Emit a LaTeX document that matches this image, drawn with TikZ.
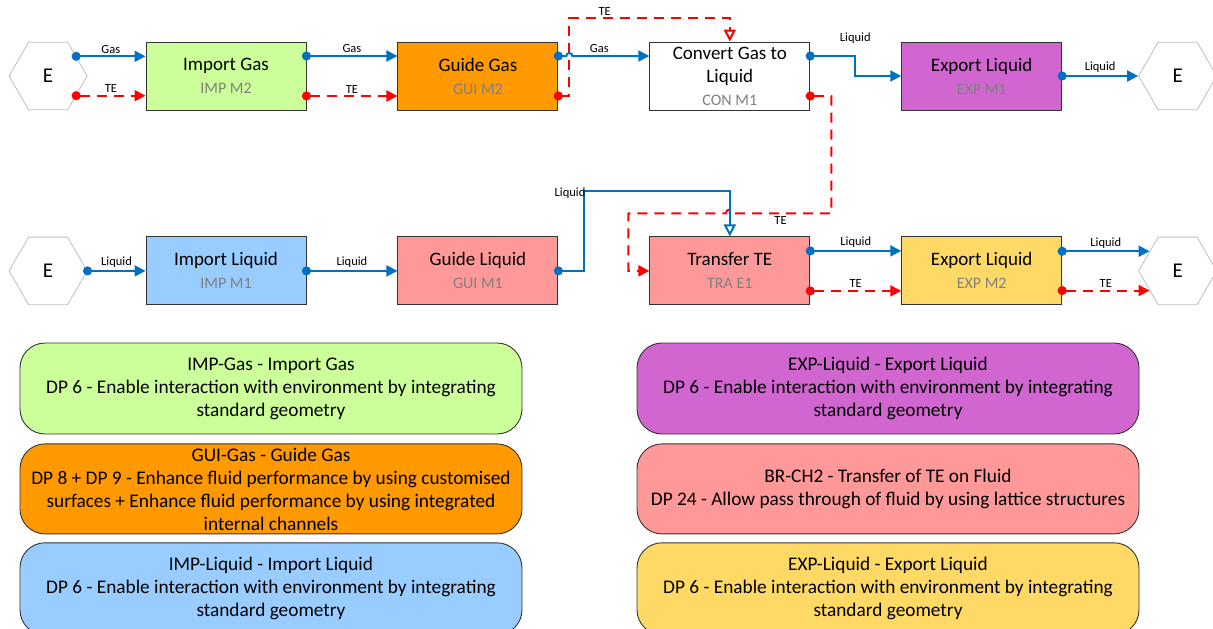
\documentclass[tikz,border=0pt]{standalone}
\usepackage{fontspec}
\setmainfont{Carlito}
\usetikzlibrary{arrows.meta,positioning,calc,shapes.geometric}

\definecolor{flowblue}{HTML}{0070C0}
\definecolor{flowred}{HTML}{FF0000}
\definecolor{gasgreen}{HTML}{CCFF99}
\definecolor{gasorange}{HTML}{FF9900}
\definecolor{liqblue}{HTML}{99CCFF}
\definecolor{liqpurple}{HTML}{D166D1}
\definecolor{liqsalmon}{HTML}{FF9999}
\definecolor{liqyellow}{HTML}{FFD966}
\definecolor{subgray}{HTML}{808080}
\definecolor{envgray}{HTML}{BFBFBF}

\newcommand{\fnname}[2]{#1\\{\color{subgray}\fontsize{16}{23}\selectfont #2}}

\begin{document}
\begin{tikzpicture}[
    x=1pt, y=1pt,
    node distance=126pt and 91pt,
    func/.style={draw=black!80, line width=0.9pt, rectangle, align=center, minimum width=160pt, minimum height=68pt, inner sep=0pt, font=\fontsize{19}{23}\selectfont},
    env/.style={draw=envgray, line width=0.8pt, regular polygon, regular polygon sides=6, minimum size=78pt, inner sep=0pt, font=\fontsize{21}{24}\selectfont},
    legend/.style={draw=black!80, line width=0.9pt, rounded corners=25pt, align=center, minimum width=502pt, minimum height=91pt, inner xsep=4pt, inner ysep=0pt, font=\fontsize{19.3}{23}\selectfont},
    gasflow/.style={flowblue, line width=2pt, {Circle[length=9pt]}-{Triangle[length=11pt,width=11pt]}, shorten <=-4.5pt},
    teflow/.style={flowred, line width=2pt, dash pattern=on 10pt off 7pt, {Circle[length=9pt]}-{Triangle[length=11pt,width=11pt]}, shorten <=-4.5pt},
    gasopen/.style={gasflow, {Circle[length=9pt]}-{Triangle[open,length=12pt,width=12pt]}},
    teopen/.style={teflow, {Circle[length=9pt]}-{Triangle[open,length=12pt,width=12pt]}},
    lbl/.style={font=\fontsize{12.5}{14}\selectfont, text=black, inner sep=2pt}
  ]
    \fill[white] (0,0) rectangle (1213,-629);
    \useasboundingbox (0,0) rectangle (1213,-629);

    % gas line
    \node (ig) [func, fill=gasgreen] at (226,-76) {\fnname{Import Gas}{IMP M2}};
    \node (gg) [func, fill=gasorange, right=of ig] {\fnname{Guide Gas}{GUI M2}};
    \node (cv) [func, fill=white, right=of gg] {\fnname{Convert Gas to\\Liquid}{CON M1}};
    \node (ex1) [func, fill=liqpurple, right=of cv] {\fnname{Export Liquid}{EXP M1}};
    \node (eA) [env, left=58pt of ig] {E};
    \node (eB) [env, right=76pt of ex1] {E};

    % liquid line
    \node (il) [func, fill=liqblue, below=of ig] {\fnname{Import Liquid}{IMP M1}};
    \node (gl) [func, fill=liqsalmon, below=of gg] {\fnname{Guide Liquid}{GUI M1}};
    \node (tr) [func, fill=liqsalmon, below=of cv] {\fnname{Transfer TE}{TRA E1}};
    \node (ex2) [func, fill=liqyellow, below=of ex1] {\fnname{Export Liquid}{EXP M2}};
    \node (eC) [env, left=58pt of il] {E};
    \node (eD) [env, right=76pt of ex2] {E};

    \draw [gasflow] (eA.35) -- (eA.35 -| ig.west) node[lbl, midway, above] {Gas};
    \draw [teflow] (eA.-35) -- (eA.-35 -| ig.west) node[lbl, midway, above] {TE};
    \draw [gasflow] ([yshift=20pt]ig.east) -- ([yshift=20pt]gg.west) node[lbl, midway, above] {Gas};
    \draw [teflow] ([yshift=-20pt]ig.east) -- ([yshift=-20pt]gg.west) node[lbl, midway, above] {TE};
    \draw [teopen] ([yshift=-20pt]gg.east) -- ++(11,0) -- ++(0,78) -| (cv.north) node[lbl, pos=0.11, above] {TE};
    \draw [gasflow] ([yshift=20pt]gg.east) -- ++(8,0) arc[start angle=180, end angle=0, radius=3] -- ([yshift=20pt]cv.west) node[lbl, pos=0.35, above] {Gas};
    \draw [gasflow] ([yshift=20pt]cv.east) -- ++(45,0) node[lbl, above=9pt] {Liquid} |- (ex1.west);
    \draw [gasflow] (ex1.east) -- (eB.west) node[lbl, midway, above] {Liquid};
    \draw [teflow] ([yshift=-20pt]cv.east) -- ++(21,0) |- ([xshift=4pt, yshift=23pt]tr.north) node[lbl, pos=0.76, below] {TE}
      arc[start angle=0, end angle=180, radius=4] -- ([xshift=-21pt, yshift=23pt]tr.north west) |- (tr.west);

    \draw [gasflow] (eC.east) -- (il.west) node[lbl, midway, above] {Liquid};
    \draw [gasflow] (il.east) -- (gl.west) node[lbl, midway, above] {Liquid};
    \draw [gasopen] (gl.east) -- ++(26,0) -- ++(0,80) node[lbl, anchor=east, xshift=4pt, yshift=-2pt] {Liquid} -| (tr.north);
    \draw [gasflow] ([yshift=20pt]tr.east) -- ([yshift=20pt]ex2.west) node[lbl, midway, above] {Liquid};
    \draw [teflow] ([yshift=-20pt]tr.east) -- ([yshift=-20pt]ex2.west) node[lbl, midway, above] {TE};
    \draw [gasflow] (eD.145 -| ex2.east) -- (eD.145) node[lbl, midway, above] {Liquid};
    \draw [teflow] (eD.-145 -| ex2.east) -- (eD.-145) node[lbl, midway, above] {TE};

    % design principles
    \node (lgIG) [legend, fill=gasgreen] at (271,-388.5) {IMP-Gas - Import Gas\\DP 6 - Enable interaction with environment by integrating\\standard geometry};
    \node (lgGG) [legend, fill=gasorange, minimum height=90pt, below=9pt of lgIG] {GUI-Gas - Guide Gas\\DP 8 + DP 9 - Enhance fluid performance by using customised\\surfaces + Enhance fluid performance by using integrated\\internal channels};
    \node (lgIL) [legend, fill=liqblue, minimum height=92pt, below=8pt of lgGG] {IMP-Liquid - Import Liquid\\DP 6 - Enable interaction with environment by integrating\\standard geometry};
    \node (lgEX1) [legend, fill=liqpurple] at (888,-388.5) {EXP-Liquid - Export Liquid\\DP 6 - Enable interaction with environment by integrating\\standard geometry};
    \node (lgTR) [legend, fill=liqsalmon, minimum height=90pt, below=9pt of lgEX1] {BR-CH2 - Transfer of TE on Fluid\\DP 24 - Allow pass through of fluid by using lattice structures};
    \node (lgEX2) [legend, fill=liqyellow, minimum height=92pt, below=8pt of lgTR] {EXP-Liquid - Export Liquid\\DP 6 - Enable interaction with environment by integrating\\standard geometry};
\end{tikzpicture}
\end{document}
